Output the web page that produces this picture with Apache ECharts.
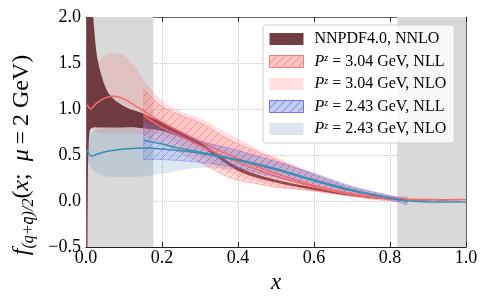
<!DOCTYPE html>
<html><head><meta charset="utf-8">
<script src="https://cdn.jsdelivr.net/npm/echarts@6/dist/echarts.min.js"></script>
<style>html,body{margin:0;padding:0;background:#fff}#c{width:488px;height:302px}</style>
</head><body><div id="c"></div>
<script>
// ---------------- data ----------------
const xMin = 0, xMax = 1.0, xStep = 0.2;
const yMin = -0.5, yMax = 2.0, yStep = 0.5;
const shadedRegions = [[0, 0.177], [0.819, 1.0]];

// NNPDF4.0, NNLO band
const nnpdfX  = [0.0005, 0.003, 0.005, 0.007, 0.01, 0.015, 0.02, 0.03, 0.05, 0.07, 0.1, 0.13, 0.15, 0.17, 0.2, 0.25, 0.3, 0.4, 0.5, 0.6, 0.7, 0.8, 0.9, 1.0];
const nnpdfHi = [3.0, 3.0, 3.0, 3.0, 2.8, 2.3, 1.95, 1.55, 1.25, 1.12, 1.03, 0.98, 0.95, 0.91, 0.86, 0.75, 0.64, 0.37, 0.23, 0.145, 0.07, 0.025, 0.008, 0.0];
const nnpdfLo = [-1.0, -1.0, 0.2, 0.6, 0.76, 0.79, 0.8, 0.8, 0.8, 0.8, 0.8, 0.8, 0.79, 0.78, 0.76, 0.69, 0.6, 0.33, 0.2, 0.12, 0.055, 0.015, 0.003, 0.0];

// P^z = 3.04 GeV, NLO band
const r304nloX  = [0.005, 0.01, 0.02, 0.03, 0.05, 0.07, 0.1, 0.13, 0.15, 0.17, 0.2, 0.25, 0.3, 0.38, 0.46, 0.5, 0.6, 0.7, 0.8, 0.845];
const r304nloHi = [1.1, 1.2, 1.4, 1.5, 1.58, 1.61, 1.58, 1.45, 1.33, 1.22, 1.09, 0.97, 0.9, 0.72, 0.55, 0.48, 0.3, 0.15, 0.06, 0.045];
const r304nloLo = [0.95, 0.85, 0.78, 0.75, 0.73, 0.73, 0.73, 0.73, 0.73, 0.74, 0.72, 0.6, 0.48, 0.3, 0.2, 0.16, 0.1, 0.05, 0.01, -0.01];

// P^z = 3.04 GeV, NLL band
const r304nllX  = [0.152, 0.2, 0.25, 0.3, 0.38, 0.46, 0.5, 0.6, 0.7, 0.8, 0.845];
const r304nllHi = [1.21, 1.03, 0.93, 0.85, 0.66, 0.52, 0.45, 0.28, 0.14, 0.05, 0.045];
const r304nllLo = [0.72, 0.63, 0.52, 0.42, 0.25, 0.18, 0.15, 0.11, 0.05, 0.0, -0.01];

// P^z = 2.43 GeV, NLO band
const b243nloX  = [0.005, 0.01, 0.02, 0.05, 0.1, 0.15, 0.2, 0.3, 0.4, 0.5, 0.6, 0.7, 0.8, 0.845];
const b243nloHi = [0.62, 0.7, 0.76, 0.79, 0.8, 0.78, 0.75, 0.66, 0.55, 0.43, 0.3, 0.16, 0.06, 0.03];
const b243nloLo = [0.45, 0.4, 0.33, 0.27, 0.26, 0.27, 0.3, 0.36, 0.33, 0.25, 0.15, 0.07, 0.01, -0.03];

// P^z = 2.43 GeV, NLL band
const b243nllX  = [0.152, 0.2, 0.3, 0.4, 0.5, 0.6, 0.7, 0.8, 0.845];
const b243nllHi = [0.86, 0.8, 0.65, 0.55, 0.43, 0.3, 0.16, 0.06, 0.02];
const b243nllLo = [0.45, 0.45, 0.42, 0.36, 0.26, 0.16, 0.07, 0.01, -0.04];

// central lines
const redNloX = [0.002, 0.012, 0.02, 0.03, 0.045, 0.065, 0.08, 0.1, 0.12, 0.14, 0.156, 0.19, 0.25, 0.3, 0.35, 0.4, 0.5, 0.6, 0.7, 0.8, 0.85, 0.9, 1.0];
const redNloY = [1.05, 1.0, 1.03, 1.07, 1.11, 1.135, 1.135, 1.11, 1.06, 1.01, 0.97, 0.88, 0.75, 0.65, 0.55, 0.46, 0.3, 0.17, 0.08, 0.03, 0.018, 0.015, 0.015];
const redNllX = [0.152, 0.2, 0.25, 0.3, 0.4, 0.5, 0.6, 0.7, 0.8, 0.845];
const redNllY = [0.93, 0.8, 0.7, 0.6, 0.42, 0.27, 0.155, 0.07, 0.02, 0.012];
const blueNloX = [0.002, 0.008, 0.015, 0.03, 0.05, 0.08, 0.12, 0.16, 0.2, 0.25, 0.3, 0.35, 0.4, 0.5, 0.6, 0.7, 0.8, 0.85, 0.9, 1.0];
const blueNloY = [0.56, 0.51, 0.49, 0.51, 0.535, 0.555, 0.57, 0.575, 0.565, 0.545, 0.52, 0.48, 0.44, 0.34, 0.22, 0.11, 0.03, 0.0, -0.01, -0.01];
const blueNllX = [0.152, 0.2, 0.25, 0.3, 0.4, 0.5, 0.6, 0.7, 0.8, 0.845];
const blueNllY = [0.66, 0.62, 0.57, 0.53, 0.45, 0.35, 0.23, 0.12, 0.035, 0.0];

const seriesNames = ['NNPDF4.0, NNLO', 'P=3.04 GeV, NLL', 'P=3.04 GeV, NLO', 'P=2.43 GeV, NLL', 'P=2.43 GeV, NLO'];
const legendLabels = {
  'NNPDF4.0, NNLO': 'NNPDF4.0, NNLO',
  'P=3.04 GeV, NLL': '{i|P}{sup|z}{n| = 3.04 GeV, NLL}',
  'P=3.04 GeV, NLO': '{i|P}{sup|z}{n| = 3.04 GeV, NLO}',
  'P=2.43 GeV, NLL': '{i|P}{sup|z}{n| = 2.43 GeV, NLL}',
  'P=2.43 GeV, NLO': '{i|P}{sup|z}{n| = 2.43 GeV, NLO}'
};

// ---------------- styles ----------------
const SERIF = "'Liberation Serif', 'DejaVu Serif', serif";
const C_NNPDF = 'rgba(104,52,57,0.95)';
const C_RNLO = 'rgba(255,100,100,0.2)';
const C_BNLO = 'rgba(70,130,180,0.18)';
const C_RED = '#f86868';
const C_TEAL = '#3b8db5';

function hatch(bg, line) {
  const s = 8, c = document.createElement('canvas');
  c.width = s; c.height = s;
  const g = c.getContext('2d');
  g.fillStyle = bg; g.fillRect(0, 0, s, s);
  g.strokeStyle = line; g.lineWidth = 1;
  g.beginPath();
  g.moveTo(0, s); g.lineTo(s, 0);
  g.moveTo(-s / 2, s / 2); g.lineTo(s / 2, -s / 2);
  g.moveTo(s / 2, s * 1.5); g.lineTo(s * 1.5, s / 2);
  g.stroke();
  return c;
}
const P_RNLL = { image: hatch('rgba(255,110,110,0.22)', 'rgba(255,80,80,0.45)'), repeat: 'repeat' };
const P_BNLL = { image: hatch('rgba(110,130,230,0.22)', 'rgba(90,90,255,0.45)'), repeat: 'repeat' };
const P_RNLL_L = { image: hatch('rgba(255,200,200,1)', 'rgba(255,110,110,0.9)'), repeat: 'repeat' };
const P_BNLL_L = { image: hatch('rgba(196,208,236,1)', 'rgba(100,100,255,0.9)'), repeat: 'repeat' };

function curvePath(pts, first) {
  let d = (first ? 'M' : 'L') + pts[0][0] + ' ' + pts[0][1];
  for (let i = 0; i < pts.length - 1; i++) {
    const p0 = pts[Math.max(i - 1, 0)], p1 = pts[i], p2 = pts[i + 1], p3 = pts[Math.min(i + 2, pts.length - 1)];
    const c1 = [p1[0] + (p2[0] - p0[0]) / 6, p1[1] + (p2[1] - p0[1]) / 6];
    const c2 = [p2[0] - (p3[0] - p1[0]) / 6, p2[1] - (p3[1] - p1[1]) / 6];
    d += ' C' + c1[0] + ' ' + c1[1] + ' ' + c2[0] + ' ' + c2[1] + ' ' + p2[0] + ' ' + p2[1];
  }
  return d;
}

function band(name, xs, lo, hi, fill, edge) {
  return {
    type: 'custom', name: name, clip: true, silent: true,
    itemStyle: { color: typeof fill === 'string' ? fill : '#f88' },
    data: xs.map((x, i) => [x, lo[i], hi[i]]),
    encode: { x: 0, y: [1, 2] },
    renderItem: function (params, api) {
      if (params.dataIndex !== 0) return null;
      const up = xs.map((x, i) => api.coord([x, hi[i]]));
      const dn = xs.map((x, i) => api.coord([x, lo[i]])).reverse();
      const d = curvePath(up, true) + ' ' + curvePath(dn, false) + ' Z';
      return { type: 'path', shape: { pathData: d },
        style: { fill: fill, stroke: edge || null, lineWidth: edge ? 0.8 : 0 } };
    }
  };
}
function curve(xs, ys, color) {
  return {
    type: 'custom', clip: true, silent: true,
    data: xs.map((x, i) => [x, ys[i]]),
    encode: { x: 0, y: 1 },
    renderItem: function (params, api) {
      if (params.dataIndex !== 0) return null;
      const pts = xs.map((x, i) => api.coord([x, ys[i]]));
      return { type: 'path', shape: { pathData: curvePath(pts, true) },
        style: { fill: null, stroke: color, lineWidth: 1.5 } };
    }
  };
}

const fmt = v => (Math.round(v * 10) / 10).toFixed(1).replace('-', '\u2212');

const chart = echarts.init(document.getElementById('c'), null, { renderer: 'canvas' });
chart.setOption({
  animation: false,
  backgroundColor: '#fff',
  grid: { left: 76, right: 22, top: 17, bottom: 55 },
  xAxis: [{
    type: 'value', min: xMin, max: xMax, interval: xStep, position: 'bottom',
    name: 'x', nameLocation: 'middle', nameGap: 24,
    nameTextStyle: { fontFamily: SERIF, fontStyle: 'italic', fontSize: 23, color: '#000' },
    axisLine: { show: true, onZero: false, lineStyle: { color: '#222', width: 1 } },
    axisTick: { show: true, inside: true, length: 5, lineStyle: { color: '#222' } },
    axisLabel: { fontFamily: SERIF, fontSize: 18, color: '#000', margin: 2, formatter: fmt },
    splitLine: { show: true, lineStyle: { color: '#c8c8c8', type: 'dotted', width: 1 } }
  }, {
    type: 'value', min: xMin, max: xMax, interval: xStep, position: 'top',
    axisLine: { show: true, onZero: false, lineStyle: { color: '#666', width: 1 } },
    axisTick: { show: true, inside: true, length: 5, lineStyle: { color: '#222' } },
    axisLabel: { show: false }, splitLine: { show: false }
  }],
  yAxis: [{
    type: 'value', min: yMin, max: yMax, interval: yStep, position: 'left',
    name: '{f|f}{sub|(q+q\u0304)/2}{r|(}{i|x}{r|;\u2002}{i|\u03bc}{r|\u2009=\u20092 GeV)}',
    nameLocation: 'middle', nameGap: 51, nameRotate: 90,
    nameTextStyle: {
      fontFamily: SERIF, fontSize: 24, color: '#000', padding: [0, 46, 0, 0],
      rich: {
        f: { fontFamily: SERIF, fontStyle: 'italic', fontSize: 24, lineHeight: 27 },
        i: { fontFamily: SERIF, fontStyle: 'italic', fontSize: 24, lineHeight: 27 },
        r: { fontFamily: SERIF, fontSize: 24, lineHeight: 27 },
        sub: { fontFamily: SERIF, fontStyle: 'italic', fontSize: 16, lineHeight: 16, padding: [13, 0, 0, 0], verticalAlign: 'top' }
      }
    },
    axisLine: { show: true, onZero: false, lineStyle: { color: '#222', width: 1 } },
    axisTick: { show: true, inside: true, length: 5, lineStyle: { color: '#222' } },
    axisLabel: { fontFamily: SERIF, fontSize: 18, color: '#000', margin: 5, formatter: fmt },
    splitLine: { show: true, lineStyle: { color: '#c8c8c8', type: 'dotted', width: 1 } }
  }, {
    type: 'value', min: yMin, max: yMax, interval: yStep, position: 'right',
    axisLine: { show: true, onZero: false, lineStyle: { color: '#666', width: 1 } },
    axisTick: { show: true, inside: true, length: 5, lineStyle: { color: '#222' } },
    axisLabel: { show: false }, splitLine: { show: false }
  }],
  legend: {
    orient: 'vertical', left: 263, top: 25,
    itemWidth: 34, itemHeight: 12, itemGap: 6.5,
    padding: [6, 8, 6, 6],
    backgroundColor: 'rgba(255,255,255,0.8)', borderColor: '#cfcfcf', borderWidth: 1, borderRadius: 3,
    selectedMode: false,
    data: [
      { name: seriesNames[0], icon: 'rect', itemStyle: { color: C_NNPDF, borderWidth: 0 } },
      { name: seriesNames[1], icon: 'rect', itemStyle: { color: P_RNLL_L, borderColor: 'rgba(255,110,110,0.9)', borderWidth: 1 } },
      { name: seriesNames[2], icon: 'rect', itemStyle: { color: '#ffdfdf', borderWidth: 0 } },
      { name: seriesNames[3], icon: 'rect', itemStyle: { color: P_BNLL_L, borderColor: 'rgba(100,100,255,0.9)', borderWidth: 1 } },
      { name: seriesNames[4], icon: 'rect', itemStyle: { color: '#dde6ee', borderWidth: 0 } }
    ],
    formatter: name => legendLabels[name],
    textStyle: {
      fontFamily: SERIF, fontSize: 16, color: '#000', lineHeight: 16, padding: [0, 0, 0, 6],
      rich: {
        i: { fontFamily: SERIF, fontStyle: 'italic', fontSize: 16, lineHeight: 16 },
        sup: { fontFamily: SERIF, fontStyle: 'italic', fontSize: 10, lineHeight: 8, verticalAlign: 'top' },
        n: { fontFamily: SERIF, fontSize: 16, lineHeight: 16 }
      }
    }
  },
  series: [
    {
      type: 'custom', silent: true, clip: true,
      data: shadedRegions,
      encode: { x: [0, 1] },
      renderItem: function (params, api) {
        const a = api.coord([api.value(0), yMax]);
        const b = api.coord([api.value(1), yMin]);
        return { type: 'rect', shape: { x: a[0], y: a[1], width: b[0] - a[0], height: b[1] - a[1] },
          style: { fill: '#d9d9d9' } };
      }
    },
    band(seriesNames[2], r304nloX, r304nloLo, r304nloHi, C_RNLO),
    band(seriesNames[4], b243nloX, b243nloLo, b243nloHi, C_BNLO),
    band(seriesNames[0], nnpdfX, nnpdfLo, nnpdfHi, C_NNPDF),
    band(seriesNames[1], r304nllX, r304nllLo, r304nllHi, P_RNLL, 'rgba(255,90,90,0.45)'),
    band(seriesNames[3], b243nllX, b243nllLo, b243nllHi, P_BNLL, 'rgba(90,90,255,0.45)'),
    curve(redNloX, redNloY, C_RED),
    curve(redNllX, redNllY, C_RED),
    curve(blueNloX, blueNloY, C_TEAL),
    curve(blueNllX, blueNllY, C_TEAL)
  ]
});
</script></body></html>
